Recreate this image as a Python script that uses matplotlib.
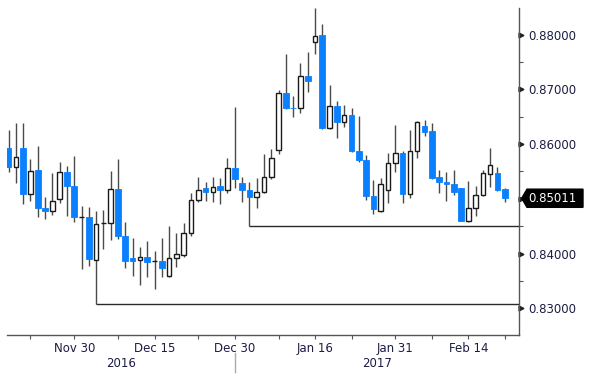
import matplotlib
matplotlib.use("Agg")
import matplotlib.pyplot as plt
from matplotlib.patches import Polygon
import numpy as np
import pandas as pd

plt.rcParams['font.family'] = ['Liberation Sans Narrow', 'DejaVu Sans']

# daily candles, 17 Nov 2016 - 21 Feb 2017 (weekdays)
DATES = pd.bdate_range("2016-11-17", "2017-02-21")

OPEN = [0.85924, 0.85588, 0.85924, 0.85089, 0.85527, 0.84828, 0.84773, 0.84997, 0.85485, 0.85235,
        0.84663, 0.84670, 0.83883, 0.84553, 0.84558, 0.85186, 0.84327, 0.83914, 0.83883, 0.83932,
        0.83864, 0.83864, 0.83590, 0.83914, 0.83969, 0.84371, 0.84979, 0.85204, 0.85131, 0.85241,
        0.85162, 0.85558, 0.85284, 0.85162, 0.85025, 0.85120, 0.85405, 0.85893, 0.86940, 0.86666,
        0.86666, 0.87251, 0.87872, 0.87995, 0.86289, 0.86697, 0.86399, 0.86527, 0.85875, 0.85710,
        0.85052, 0.84784, 0.85162, 0.85661, 0.85844, 0.85083, 0.85875, 0.86331, 0.86246, 0.85405,
        0.85314, 0.85272, 0.85193, 0.84601, 0.84828, 0.85071, 0.85454, 0.85467, 0.85175]
HIGH = [0.86258, 0.86381, 0.86392, 0.85723, 0.85966, 0.85029, 0.85467, 0.85679, 0.85600, 0.85783,
        0.84870, 0.84846, 0.84787, 0.84796, 0.85504, 0.85723, 0.84572, 0.84290, 0.84115, 0.84230,
        0.84047, 0.84279, 0.84495, 0.84382, 0.84553, 0.85113, 0.85405, 0.85303, 0.85405, 0.85376,
        0.85741, 0.86684, 0.85405, 0.85303, 0.85381, 0.85820, 0.85906, 0.86989, 0.87642, 0.86885,
        0.87477, 0.87678, 0.88480, 0.88190, 0.87081, 0.86788, 0.86721, 0.86655, 0.86514, 0.85802,
        0.85345, 0.85376, 0.85833, 0.86350, 0.85875, 0.86258, 0.86428, 0.86441, 0.86392, 0.85527,
        0.85496, 0.85527, 0.85193, 0.85326, 0.85235, 0.85527, 0.85924, 0.85588, 0.85193]
LOW = [0.85496, 0.85284, 0.84906, 0.84966, 0.84663, 0.84632, 0.84700, 0.84919, 0.84687, 0.84583,
       0.83713, 0.83773, 0.83080, 0.84084, 0.84248, 0.84266, 0.83731, 0.83590, 0.83426, 0.83566,
       0.83347, 0.83577, 0.83572, 0.83749, 0.83943, 0.84321, 0.84948, 0.84961, 0.84948, 0.84901,
       0.85102, 0.85193, 0.84948, 0.84510, 0.84824, 0.85102, 0.85357, 0.85814, 0.86642, 0.86490,
       0.86564, 0.86958, 0.87642, 0.86280, 0.86280, 0.86107, 0.86319, 0.85862, 0.85674, 0.84979,
       0.84723, 0.84765, 0.84930, 0.85496, 0.84930, 0.85010, 0.85752, 0.86149, 0.85370, 0.85113,
       0.84961, 0.85071, 0.84595, 0.84583, 0.84687, 0.85052, 0.85222, 0.85144, 0.84948]
CLOSE = [0.85577, 0.85770, 0.85083, 0.85515, 0.84828, 0.84773, 0.84966, 0.85485, 0.85235, 0.84663,
         0.84663, 0.83897, 0.84535, 0.84553, 0.85186, 0.84327, 0.83870, 0.83870, 0.83932, 0.83852,
         0.83864, 0.83731, 0.83919, 0.83987, 0.84371, 0.84979, 0.85162, 0.85120, 0.85211, 0.85162,
         0.85558, 0.85357, 0.85162, 0.85029, 0.85120, 0.85405, 0.85741, 0.86940, 0.86666, 0.86660,
         0.87251, 0.87159, 0.87982, 0.86289, 0.86697, 0.86399, 0.86527, 0.85875, 0.85710, 0.85052,
         0.84809, 0.85266, 0.85661, 0.85833, 0.85083, 0.85875, 0.86410, 0.86227, 0.85376, 0.85303,
         0.85266, 0.85131, 0.84601, 0.84828, 0.85071, 0.85467, 0.85619, 0.85162, 0.85011]

# horizontal support lines: level, date the line starts
SUPPORT_LEVELS = [0.8308, 0.8451]
SUPPORT_START = ["2016-12-05", "2017-01-03"]

LABELED_TICKS = ["2016-11-30", "2016-12-15", "2016-12-30", "2017-01-16", "2017-01-31", "2017-02-14"]
LABELED_TEXT = ["Nov 30", "Dec 15", "Dec 30", "Jan 16", "Jan 31", "Feb 14"]
MINOR_TICKS = ["2016-11-22", "2016-12-08", "2016-12-23", "2017-01-09", "2017-01-23", "2017-02-07",
               "2017-02-21"]

Y_MAJOR = [0.83, 0.84, 0.85, 0.86, 0.87, 0.88]
Y_MINOR = [0.835, 0.845, 0.855, 0.865, 0.875]

BLUE = "#0a80ff"
WICK = "#4a4a4a"
TXT = "#1c1c44"


def idx(d):
    return DATES.get_loc(pd.Timestamp(d))


fig = plt.figure(figsize=(6, 3.84), dpi=100)
ax = fig.add_axes([0.011, 0.1276, 0.854, 0.8508])

x = np.arange(len(DATES))
o = np.array(OPEN)
c = np.array(CLOSE)
up = c >= o

ax.vlines(x, LOW, HIGH, color=WICK, linewidth=1, zorder=1)
ax.bar(x[~up], (o - c)[~up], bottom=c[~up], width=0.78, color=BLUE,
       edgecolor=BLUE, linewidth=0.6, zorder=2)
ax.bar(x[up], (c - o)[up], bottom=o[up], width=0.62, color="white",
       edgecolor="#1a1a1a", linewidth=1, zorder=2)

xmin, xmax = -0.27, 69.95
for lvl, start in zip(SUPPORT_LEVELS, SUPPORT_START):
    ax.hlines(lvl, idx(start), xmax, color="#2a2a2a", linewidth=1, zorder=0)

ax.set_xlim(xmin, xmax)
ax.set_ylim(0.82512, 0.88482)

for s in ["top", "left"]:
    ax.spines[s].set_visible(False)
for s in ["bottom", "right"]:
    ax.spines[s].set_color("#555555")
    ax.spines[s].set_linewidth(1)

# x axis
tick_pos = [idx(d) for d in LABELED_TICKS] + [idx(d) for d in MINOR_TICKS]
tick_lab = LABELED_TEXT + [""] * len(MINOR_TICKS)
ax.set_xticks(tick_pos)
ax.set_xticklabels(tick_lab)
ax.tick_params(axis="x", length=3, width=0.8, color="#555555", pad=2,
               labelsize=8.5, labelcolor=TXT)

ax.text(15.4, -0.086, "2016", transform=ax.get_xaxis_transform(), ha="center",
        va="center", fontsize=8.5, color=TXT)
ax.text(50.5, -0.086, "2017", transform=ax.get_xaxis_transform(), ha="center",
        va="center", fontsize=8.5, color=TXT)
ax.plot([idx("2016-12-30")] * 2, [-0.054, -0.113], transform=ax.get_xaxis_transform(),
        color="#aaaaaa", linewidth=1, clip_on=False)

# y axis on the right
ax.yaxis.tick_right()
ax.set_yticks(Y_MAJOR)
ax.set_yticklabels(["" if v == 0.85 else f"{v:.5f}" for v in Y_MAJOR])
ax.set_yticks(Y_MINOR, minor=True)
ax.tick_params(axis="y", which="major", length=0, pad=7, labelsize=8.5, labelcolor=TXT)
ax.tick_params(axis="y", which="minor", length=3, width=0.8, color="#555555")
ax.plot([1.004] * len(Y_MAJOR), Y_MAJOR, linestyle="none", marker=">", markersize=3.5,
        color="#222222", transform=ax.get_yaxis_transform(), clip_on=False)

# last price tag
last = CLOSE[-1]
h = 0.00166
tag = Polygon([(1.0053, last), (1.0156, last + h), (1.1249, last + h),
               (1.1249, last - h), (1.0156, last - h)], closed=True,
              facecolor="black", edgecolor="black", transform=ax.get_yaxis_transform(),
              clip_on=False, zorder=5)
ax.add_patch(tag)
ax.text(1.018, last, f"{last:.5f}", transform=ax.get_yaxis_transform(), ha="left",
        va="center", fontsize=8.5, color="white", zorder=6)

fig.savefig("out.png", dpi=100, facecolor="white")
